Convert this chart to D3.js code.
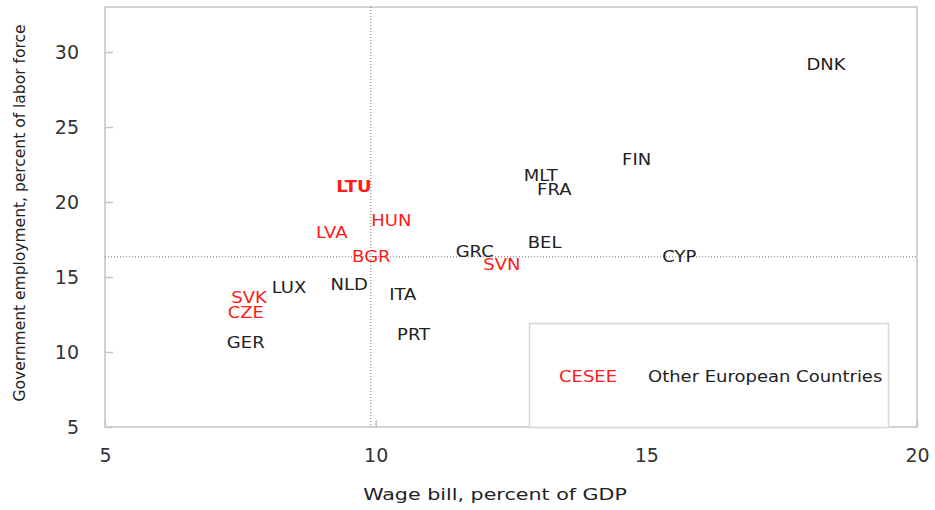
<!DOCTYPE html>
<html>
<head>
<meta charset="utf-8">
<script src="https://cdn.jsdelivr.net/npm/d3@7"></script>
<style>
  body { margin: 0; background: #fff; }
  svg { font-family: "DejaVu Sans", sans-serif; }
  .tick text { fill: #333; }
</style>
</head>
<body>
<svg id="chart" width="935" height="510"></svg>
<script>
// country codes, wage bill (% GDP), government employment (% labor force)
const countries = ["DNK", "FIN", "MLT", "FRA", "LTU", "HUN", "LVA", "BEL", "GRC", "BGR",
                   "SVN", "CYP", "LUX", "NLD", "ITA", "SVK", "CZE", "GER", "PRT"];
const wageBill  = [18.32, 14.82, 13.05, 13.3, 9.6, 10.29, 9.19, 13.12, 11.83, 9.92,
                   12.33, 15.61, 8.40, 9.51, 10.50, 7.66, 7.60, 7.60, 10.70];
const govEmp    = [29.13, 22.83, 21.75, 20.77, 20.97, 18.73, 17.93, 17.27, 16.67, 16.35,
                   15.78, 16.3, 14.25, 14.47, 13.8, 13.62, 12.6, 10.6, 11.1];
const cesee     = ["LTU", "HUN", "LVA", "BGR", "SVN", "SVK", "CZE"];
const bold      = ["LTU"];

// average lines
const avgWage = 9.91;
const avgEmp = 16.35;

const xTicks = [5, 10, 15, 20];
const yTicks = [5, 10, 15, 20, 25, 30];
const legendItems = ["CESEE", "Other European Countries"];

const red = "#ff1a1a", dark = "#222";
const margin = {left: 105, right: 18, top: 7, bottom: 83};
const W = 935, H = 510;
const stretch = 1.2; // source picture is a bit wide

const svg = d3.select("#chart");

const x = d3.scaleLinear().domain([5, 20]).range([margin.left, W - margin.right]);
const y = d3.scaleLinear().domain([5, 33]).range([H - margin.bottom, margin.top]);

// put text at (px,py) stretched horizontally
function place(sel, px, py, sx) {
    sel.attr("x", 0).attr("y", 0)
       .attr("transform", (d, i) => {
           const a = typeof px == "function" ? px(d, i) : px;
           const b = typeof py == "function" ? py(d, i) : py;
           return `translate(${a},${b}) scale(${sx},1)`;
       });
}

// frame
svg.append("rect")
    .attr("x", x(5)).attr("y", y(33))
    .attr("width", x(20) - x(5)).attr("height", y(5) - y(33))
    .attr("fill", "none").attr("stroke", "#c4c4c4").attr("stroke-width", 1.5);

// axes, ticks inward
const xAxis = svg.append("g")
    .attr("transform", `translate(0,${y(5)})`)
    .call(d3.axisBottom(x).tickValues(xTicks).tickSize(-7).tickPadding(22));
const yAxis = svg.append("g")
    .attr("transform", `translate(${x(5)},0)`)
    .call(d3.axisLeft(y).tickValues(yTicks).tickSize(-8).tickPadding(26));

[xAxis, yAxis].forEach(a => {
    a.select(".domain").remove();
    a.selectAll(".tick line").attr("stroke", "#c4c4c4").attr("stroke-width", 1.5);
    a.selectAll(".tick text").attr("font-size", 19).attr("font-family", "DejaVu Sans");
});
xAxis.selectAll(".tick text").attr("dy", "0.71em");

// reference lines
svg.append("line")
    .attr("x1", x(avgWage)).attr("x2", x(avgWage))
    .attr("y1", y(33)).attr("y2", y(5))
    .attr("stroke", "#777").attr("stroke-dasharray", "1,2");
svg.append("line")
    .attr("x1", x(5)).attr("x2", x(20))
    .attr("y1", y(avgEmp)).attr("y2", y(avgEmp))
    .attr("stroke", "#777").attr("stroke-dasharray", "1,2");

// legend box
const lg = svg.append("g");
lg.append("rect")
    .attr("x", 529.5).attr("y", 323.5).attr("width", 359).attr("height", 104)
    .attr("fill", "#fff").attr("stroke", "#d6d6d6").attr("stroke-width", 1.5);
lg.selectAll("text")
    .data(legendItems)
    .enter().append("text")
    .attr("text-anchor", (d, i) => i == 0 ? "middle" : "start")
    .attr("dominant-baseline", "central")
    .attr("font-size", 15)
    .attr("fill", (d, i) => i == 0 ? red : dark)
    .text(d => d)
    .call(place, (d, i) => i == 0 ? 588 : 648, 377, stretch);

// country labels as markers
svg.append("g").selectAll("text")
    .data(countries)
    .enter().append("text")
    .attr("text-anchor", "middle")
    .attr("dominant-baseline", "central")
    .attr("font-size", 15)
    .attr("font-weight", d => bold.includes(d) ? "bold" : "normal")
    .attr("fill", d => cesee.includes(d) ? red : dark)
    .text(d => d)
    .call(place, (d, i) => x(wageBill[i]), (d, i) => y(govEmp[i]), stretch);

// axis titles
svg.append("text")
    .attr("text-anchor", "middle").attr("dominant-baseline", "central")
    .attr("font-size", 16).attr("fill", dark)
    .text("Wage bill, percent of GDP")
    .call(place, 495, 494, 1.29);
svg.append("text")
    .attr("transform", `translate(20,213) rotate(-90)`)
    .attr("text-anchor", "middle").attr("dominant-baseline", "central")
    .attr("font-size", 15.5).attr("fill", dark)
    .text("Government employment, percent of labor force");
</script>
</body>
</html>
